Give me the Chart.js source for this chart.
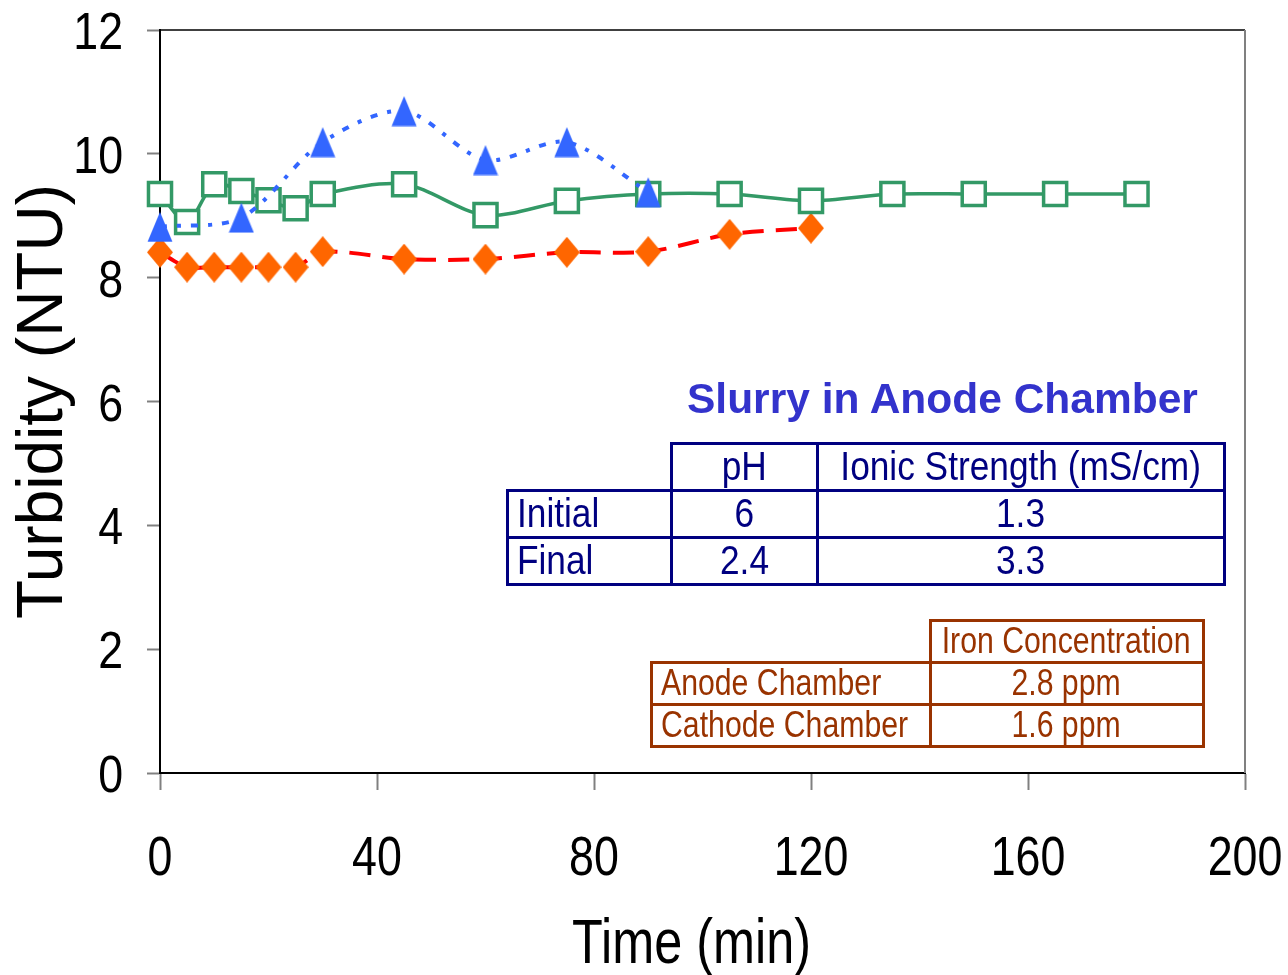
<!DOCTYPE html>
<html>
<head>
<meta charset="utf-8">
<script src="https://cdn.jsdelivr.net/npm/chart.js@4.4.1/dist/chart.umd.min.js"></script>
<style>
  body { margin: 0; background: #fff; }
  #wrap { position: relative; width: 1288px; height: 975px; font-family: "Liberation Sans", Arial, sans-serif; }
  #myChart { position: absolute; left: 0; top: 0; }
  .ttl { position: absolute; left: 687px; top: 378px; font-weight: bold; font-size: 42.5px; line-height: 42px; color: #3333cc; white-space: nowrap; }
  .cell { position: absolute; box-sizing: border-box; display: flex; align-items: center; justify-content: center; white-space: nowrap; line-height: 1; }
  .cell.lft { justify-content: flex-start; padding-left: 8px; }
  .cell span { display: inline-block; }
</style>
</head>
<body>
<div id="wrap">
  <canvas id="myChart" width="1288" height="975"></canvas>
  <div class="ttl">Slurry in Anode Chamber</div>
</div>
<script>
// datos
const timeGreen = [0, 5, 10, 15, 20, 25, 30, 45, 60, 75, 90, 105, 120, 135, 150, 165, 180];
const turbGreen = [9.35, 8.9, 9.51, 9.4, 9.25, 9.12, 9.35, 9.51, 9.01, 9.24, 9.35, 9.35, 9.24, 9.35, 9.35, 9.35, 9.35];

const timeBlue = [0, 15, 30, 45, 60, 75, 90];
const turbBlue = [8.82, 8.97, 10.19, 10.69, 9.9, 10.19, 9.38];

const timeRed = [0, 5, 10, 15, 20, 25, 30, 45, 60, 75, 90, 105, 120];
const turbRed = [8.41, 8.17, 8.17, 8.17, 8.17, 8.17, 8.42, 8.3, 8.3, 8.41, 8.42, 8.7, 8.8];

const xTicks = [0, 40, 80, 120, 160, 200];
const yTicks = [0, 2, 4, 6, 8, 10, 12];

// tablas
const slurryRows = [["", "pH", "Ionic Strength (mS/cm)"], ["Initial", "6", "1.3"], ["Final", "2.4", "3.3"]];
const ironRows = [["", "Iron Concentration"], ["Anode Chamber", "2.8 ppm"], ["Cathode Chamber", "1.6 ppm"]];

const toPoints = (xs, ys) => xs.map((x, i) => ({x: x, y: ys[i]}));

function buildTable(rows, xs, ys, color, size, squeeze) {
  const wrap = document.getElementById('wrap');
  rows.forEach((row, r) => {
    row.forEach((txt, c) => {
      if (r == 0 && c == 0) return;
      const d = document.createElement('div');
      d.className = 'cell' + (c == 0 ? ' lft' : '');
      d.style.left = (xs[c] - 1.5) + 'px';
      d.style.top = (ys[r] - 1.5) + 'px';
      d.style.width = (xs[c + 1] - xs[c] + 3) + 'px';
      d.style.height = (ys[r + 1] - ys[r] + 3) + 'px';
      d.style.border = '3px solid ' + color;
      d.style.color = color;
      d.style.fontSize = size + 'px';
      const s = document.createElement('span');
      s.textContent = txt;
      s.style.transform = 'scaleX(' + squeeze + ')';
      s.style.transformOrigin = c == 0 ? 'left center' : 'center center';
      d.appendChild(s);
      wrap.appendChild(d);
    });
  });
}
buildTable(slurryRows, [507, 671, 817, 1224], [443, 490, 537, 584], '#000080', 41, 0.86);
buildTable(ironRows, [651, 930, 1203], [620, 662, 704, 746], '#993300', 36, 0.84);

// marcadores
function makeMarker(kind, color) {
  const c = document.createElement('canvas');
  c.width = 26; c.height = 31;
  const g = c.getContext('2d');
  g.fillStyle = color;
  g.beginPath();
  if (kind == 'tri') {
    g.moveTo(13, 0.5); g.lineTo(25.5, 30.5); g.lineTo(0.5, 30.5);
  } else {
    g.moveTo(13, 0); g.lineTo(26, 15.5); g.lineTo(13, 31); g.lineTo(0, 15.5);
  }
  g.closePath();
  g.fill();
  return c;
}
const triangle = makeMarker('tri', '#3366ff');
const diamond = makeMarker('dia', '#ff6600');

function squeezedText(ctx, txt, x, y, font, sx, align) {
  ctx.save();
  ctx.translate(x, y);
  ctx.scale(sx, 1);
  ctx.font = font;
  ctx.textAlign = align;
  ctx.textBaseline = 'alphabetic';
  ctx.fillStyle = '#000';
  ctx.fillText(txt, 0, 0);
  ctx.restore();
}

const framePlugin = {
  id: 'frame',
  beforeDatasetsDraw(chart) {
    const a = chart.chartArea, ctx = chart.ctx;
    ctx.save();
    ctx.lineWidth = 1.5;
    ctx.strokeStyle = '#000';
    ctx.beginPath(); ctx.moveTo(a.left, a.top); ctx.lineTo(a.right, a.top); ctx.stroke();
    ctx.lineWidth = 2;
    ctx.strokeStyle = '#808080';
    ctx.beginPath(); ctx.moveTo(a.right, a.top); ctx.lineTo(a.right, a.bottom); ctx.stroke();
    ctx.restore();
  },
  afterDraw(chart) {
    const ctx = chart.ctx, xs = chart.scales.x, ys = chart.scales.y, a = chart.chartArea;
    xTicks.forEach(v => {
      squeezedText(ctx, String(v), xs.getPixelForValue(v), xs.top + 102, '56px "Liberation Sans"', 0.8, 'center');
    });
    yTicks.forEach(v => {
      squeezedText(ctx, String(v), ys.right - 37, ys.getPixelForValue(v) + 19, '52px "Liberation Sans"', 0.86, 'right');
    });
    squeezedText(ctx, 'Time (min)', (a.left + a.right) / 2 - 11, xs.top + 190, '63px "Liberation Sans"', 0.8, 'center');
  }
};

const ctx = document.getElementById('myChart');

new Chart(ctx, {
  type: 'line',
  data: {
    datasets: [
      {
        label: 'blue',
        data: toPoints(timeBlue, turbBlue),
        borderColor: '#3366ff',
        borderWidth: 4,
        borderDash: [7, 10, 4, 10],
        pointStyle: triangle,
        tension: 0.3,
        clip: false,
        order: 0
      },
      {
        label: 'green',
        data: toPoints(timeGreen, turbGreen),
        borderColor: '#339966',
        borderWidth: 3.5,
        pointStyle: 'rect',
        pointRadius: 16.3,
        pointBorderWidth: 3.5,
        pointBackgroundColor: '#fff',
        pointBorderColor: '#339966',
        tension: 0.3,
        clip: false,
        order: 1
      },
      {
        label: 'red',
        data: toPoints(timeRed, turbRed),
        borderColor: '#ff0000',
        borderWidth: 4,
        borderDash: [21, 12],
        pointStyle: diamond,
        tension: 0.3,
        clip: false,
        order: 2
      }
    ]
  },
  options: {
    responsive: false,
    animation: false,
    devicePixelRatio: 1,
    layout: { autoPadding: false, padding: { top: 30, right: 43, left: 0, bottom: 0 } },
    plugins: { legend: { display: false }, tooltip: { enabled: false } },
    scales: {
      x: {
        type: 'linear',
        min: 0, max: 200,
        afterBuildTicks: s => { s.ticks = xTicks.map(v => ({value: v})); },
        afterFit: s => { s.height = 202; },
        ticks: { display: false },
        grid: { drawOnChartArea: false, tickLength: 17, tickColor: '#808080', tickWidth: 2 },
        border: { color: '#000', width: 2 }
      },
      y: {
        min: 0, max: 12,
        afterBuildTicks: s => { s.ticks = yTicks.map(v => ({value: v})); },
        afterFit: s => { s.width = 160; },
        ticks: { display: false },
        grid: { drawOnChartArea: false, tickLength: 13, tickColor: '#808080', tickWidth: 2 },
        border: { color: '#000', width: 2 },
        title: {
          display: true, text: 'Turbidity (NTU)', color: '#000',
          padding: { top: 6, bottom: 0 },
          font: { family: '"Liberation Sans", Arial', size: 64 }
        }
      }
    }
  },
  plugins: [framePlugin]
});
</script>
</body>
</html>
